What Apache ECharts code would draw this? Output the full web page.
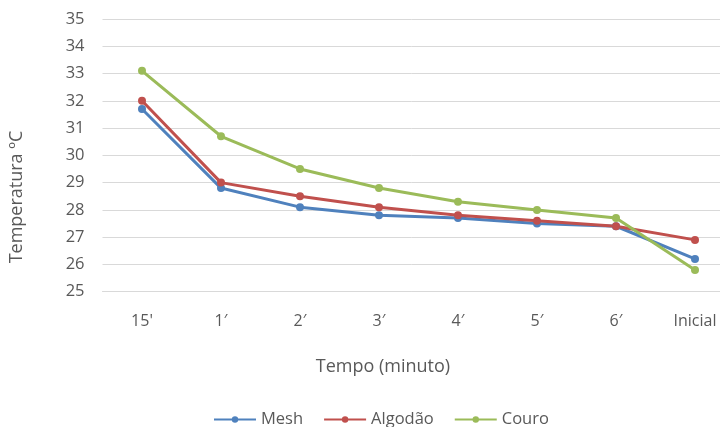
<!DOCTYPE html>
<html>
<head>
<meta charset="utf-8">
<script src="https://cdn.jsdelivr.net/npm/echarts@6/dist/echarts.min.js"></script>
<style>
  html, body { margin: 0; padding: 0; background: #ffffff; }
  #chart { width: 720px; height: 427px; }
</style>
</head>
<body>
<div id="chart"></div>
<script>
// Time points along the x axis
var categories = ["15'", "1\u2032", "2\u2032", "3\u2032", "4\u2032", "5\u2032", "6\u2032", "Inicial"];

// Temperature readings (°C) per material
var meshValues    = [31.7, 28.8, 28.1, 27.8, 27.7, 27.5, 27.4, 26.2];
var algodaoValues = [32.0, 29.0, 28.5, 28.1, 27.8, 27.6, 27.4, 26.9];
var couroValues   = [33.1, 30.7, 29.5, 28.8, 28.3, 28.0, 27.7, 25.8];

var seriesNames = ['Mesh', 'Algod\u00e3o', 'Couro'];
var seriesColors = ['#4F81BD', '#C0504D', '#9BBB59'];
var seriesValues = [meshValues, algodaoValues, couroValues];

var FONT = '"Open Sans", "Liberation Sans", sans-serif';
var TEXT_COLOR = '#595959';

var chart = echarts.init(document.getElementById('chart'), null, { renderer: 'canvas' });

chart.setOption({
  backgroundColor: '#ffffff',
  animation: false,
  // plot area runs past the right edge of the canvas
  grid: {
    left: 102.5, width: 632, top: 19, bottom: 135.3,
    containLabel: false, outerBoundsMode: 'none'
  },
  legend: {
    left: 213,
    bottom: -1,
    padding: 0,
    itemWidth: 42,
    itemHeight: 8,
    itemGap: 20,
    data: seriesNames,
    textStyle: { fontFamily: FONT, fontSize: 16.5, color: TEXT_COLOR }
  },
  xAxis: {
    type: 'category',
    data: categories,
    boundaryGap: true,
    axisLine: { show: true, lineStyle: { color: '#D9D9D9', width: 1 } },
    axisTick: { show: false },
    axisLabel: { margin: 22, fontFamily: FONT, fontSize: 16, color: TEXT_COLOR }
  },
  yAxis: {
    type: 'value',
    min: 25,
    max: 35,
    interval: 1,
    axisLine: { show: false },
    axisTick: { show: false },
    axisLabel: { margin: 18, fontFamily: FONT, fontSize: 16.5, color: TEXT_COLOR },
    splitLine: { lineStyle: { color: '#D9D9D9', width: 1 } }
  },
  // axis titles
  graphic: [{
    type: 'text',
    x: 383,
    y: 367,
    style: {
      text: 'Tempo (minuto)',
      fontFamily: FONT,
      fontSize: 18,
      fill: TEXT_COLOR,
      align: 'center',
      verticalAlign: 'middle'
    }
  }, {
    type: 'text',
    x: 17,
    y: 197,
    rotation: Math.PI / 2,
    style: {
      text: 'Temperatura \u00baC',
      fontFamily: FONT,
      fontSize: 18,
      fill: TEXT_COLOR,
      align: 'center',
      verticalAlign: 'middle'
    }
  }],
  series: seriesNames.map(function (name, i) {
    return {
      name: name,
      type: 'line',
      data: seriesValues[i],
      symbol: 'circle',
      symbolSize: 8,
      color: seriesColors[i],
      lineStyle: { width: 3, color: seriesColors[i] },
      itemStyle: { color: seriesColors[i] }
    };
  })
});
</script>
</body>
</html>
